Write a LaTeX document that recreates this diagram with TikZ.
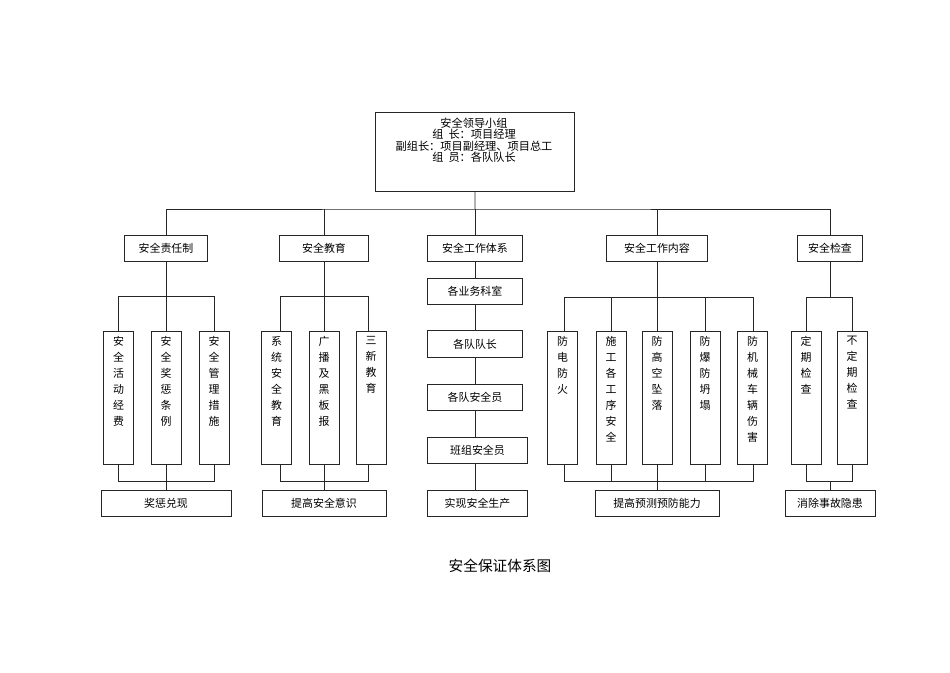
\documentclass[tikz,border=0pt]{standalone}
\usepackage{fontspec}
\setmainfont{Noto Sans CJK SC}
\begin{document}
\begin{tikzpicture}[x=0.75pt,y=-0.75pt,
  box/.style={draw=black!85,line width=0.6pt,inner sep=0pt,font=\fontsize{8.2}{10}\selectfont},
  vbox/.style={box,anchor=north,minimum width=22.5pt,minimum height=99.75pt},
  ln/.style={draw=black!85,line width=0.6pt}]
\useasboundingbox (0,0) rectangle (950,672);
\newcommand{\vtxt}[1]{\parbox[c][95pt][t]{12pt}{\centering\fontsize{8.2}{12}\selectfont\vspace{1pt}#1}}
% top
\node[box,minimum width=149.25pt,minimum height=59.25pt,anchor=north west] (top) at (375,112) {};
\node[font=\fontsize{8.4}{8.6}\selectfont,align=center,inner sep=0pt] (toptxt) at (474,140) {安全领导小组\\组\ \ 长：项目经理\\副组长：项目副经理、项目总工\\组\ \ 员：各队队长};
\coordinate (bus) at (475,209);
% level 2
\node[box,minimum width=62pt,minimum height=19.5pt] (a) at (166,248) {安全责任制};
\node[box,minimum width=67pt,minimum height=19.5pt] (b) at (324,248) {安全教育};
\node[box,minimum width=71pt,minimum height=19.5pt] (c) at (475,248) {安全工作体系};
\node[box,minimum width=76pt,minimum height=19.5pt] (d) at (657,248) {安全工作内容};
\node[box,minimum width=49pt,minimum height=19.5pt] (e) at (830,248) {安全检查};
\draw[ln] (top.south) -- (bus);
\draw[ln] (a.north) |- (bus) -| (e.north);
\draw[ln] (b.north) -- (b.north|-bus);
\draw[ln] (c.north) -- (c.north|-bus);
\draw[ln] (d.north) -- (d.north|-bus);
% column 1
\node[vbox] (a1) at (118.5,331) {\vtxt{安\\全\\活\\动\\经\\费}};
\node[vbox] (a2) at (166,331) {\vtxt{安\\全\\奖\\惩\\条\\例}};
\node[vbox] (a3) at (214,331) {\vtxt{安\\全\\管\\理\\措\\施}};
\node[box,minimum width=97.5pt,minimum height=19.5pt] (a4) at (166,503) {奖惩兑现};
\draw[ln] (a.south) -- (166,296);
\draw[ln] (a1.north) |- (214,296) -- (a3.north);
\draw[ln] (166,296) -- (a2.north);
\draw[ln] (a1.south) |- (214,481) -- (a3.south);
\draw[ln] (a2.south) -- (a4.north);
% column 2
\node[vbox] (b1) at (276.5,331) {\vtxt{系\\统\\安\\全\\教\\育}};
\node[vbox] (b2) at (324,331) {\vtxt{广\\播\\及\\黑\\板\\报}};
\node[vbox] (b3) at (371,331) {\vtxt{三\\新\\教\\育}};
\node[box,minimum width=93pt,minimum height=19.5pt] (b4) at (324,503) {提高安全意识};
\draw[ln] (b.south) -- (b2.north);
\draw[ln] (280,331) |- (368,296) -- (368,331);
\draw[ln] (280,464) |- (368,481) -- (368,464);
\draw[ln] (b2.south) -- (b4.north);
% column 3
\node[box,minimum width=71pt,minimum height=20pt] (c1) at (475,291.5) {各业务科室};
\node[box,minimum width=71pt,minimum height=20pt] (c2) at (475,344) {各队队长};
\node[box,minimum width=71pt,minimum height=20pt] (c3) at (475,397.5) {各队安全员};
\node[box,minimum width=75.5pt,minimum height=20pt] (c4) at (477.5,450.5) {班组安全员};
\node[box,minimum width=75.5pt,minimum height=19.5pt] (c5) at (477.5,503) {实现安全生产};
\draw[ln] (c.south) -- (c1.north);
\draw[ln] (c1.south) -- (c2.north);
\draw[ln] (c2.south) -- (c3.north);
\draw[ln] (c3.south) -- (c3.south|-c4.north);
\draw[ln] (c3.south|-c4.south) -- (c3.south|-c5.north);
% column 4
\node[vbox] (d1) at (562.5,331) {\vtxt{防\\电\\防\\火}};
\node[vbox] (d2) at (611,331) {\vtxt{施\\工\\各\\工\\序\\安\\全}};
\node[vbox] (d3) at (657,331) {\vtxt{防\\高\\空\\坠\\落}};
\node[vbox] (d4) at (705,331) {\vtxt{防\\爆\\防\\坍\\塌}};
\node[vbox] (d5) at (752.5,331) {\vtxt{防\\机\\械\\车\\辆\\伤\\害}};
\node[box,minimum width=93pt,minimum height=19.5pt] (d6) at (657,503) {提高预测预防能力};
\draw[ln] (d.south) -- (d3.north);
\draw[ln] (564,331) |- (753,297) -- (753,331);
\draw[ln] (611,297) -- (d2.north);
\draw[ln] (705,297) -- (d4.north);
\draw[ln] (564,464) |- (753,481) -- (753,464);
\draw[ln] (611,464) -- (611,481);
\draw[ln] (705,464) -- (705,481);
\draw[ln] (d3.south) -- (d6.north);
% column 5
\node[vbox] (e1) at (806,331) {\vtxt{定\\期\\检\\查}};
\node[vbox] (e2) at (852,331) {\vtxt{不\\定\\期\\检\\查}};
\node[box,minimum width=67.5pt,minimum height=19.5pt] (e3) at (830,503) {消除事故隐患};
\draw[ln] (e.south) -- (830,297);
\draw[ln] (e1.north) |- (852,297) -- (e2.north);
\draw[ln] (e1.south) |- (852,481) -- (e2.south);
\draw[ln] (830,481) -- (e3.north);
% title
\node[font=\fontsize{11}{13}\selectfont] (title) at (500,566) {安全保证体系图};
\end{tikzpicture}
\end{document}
